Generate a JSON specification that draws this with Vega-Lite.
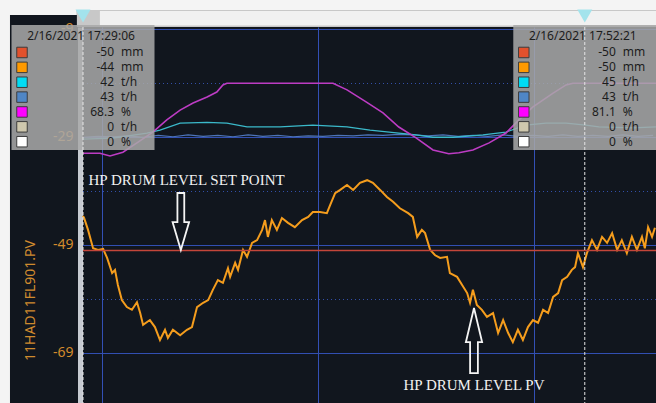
{
  "$schema": "https://vega.github.io/schema/vega-lite/v6.json",
  "width": 573,
  "height": 376,
  "autosize": {"type": "none"},
  "padding": {"left": 83, "top": 27, "right": 0, "bottom": 0},
  "background": "#11161e",
  "config": {"view": {"stroke": null}, "font": "Noto Sans", "scale": {"continuousPadding": 0}},
  "datasets": {
    "level": [
      {"time": "2021-02-16T17:29:06", "level": -43.6},
      {"time": "2021-02-16T17:29:09", "level": -44.0},
      {"time": "2021-02-16T17:29:20", "level": -46.2},
      {"time": "2021-02-16T17:29:34", "level": -49.6},
      {"time": "2021-02-16T17:29:48", "level": -49.9},
      {"time": "2021-02-16T17:30:02", "level": -49.7},
      {"time": "2021-02-16T17:30:13", "level": -51.4},
      {"time": "2021-02-16T17:30:27", "level": -54.2},
      {"time": "2021-02-16T17:30:35", "level": -53.6},
      {"time": "2021-02-16T17:30:43", "level": -56.4},
      {"time": "2021-02-16T17:30:54", "level": -59.2},
      {"time": "2021-02-16T17:31:08", "level": -60.5},
      {"time": "2021-02-16T17:31:22", "level": -61.0},
      {"time": "2021-02-16T17:31:36", "level": -59.6},
      {"time": "2021-02-16T17:31:45", "level": -61.6},
      {"time": "2021-02-16T17:31:53", "level": -63.8},
      {"time": "2021-02-16T17:32:12", "level": -62.9},
      {"time": "2021-02-16T17:32:26", "level": -64.2},
      {"time": "2021-02-16T17:32:40", "level": -66.6},
      {"time": "2021-02-16T17:32:54", "level": -64.7},
      {"time": "2021-02-16T17:33:02", "level": -66.2},
      {"time": "2021-02-16T17:33:16", "level": -64.7},
      {"time": "2021-02-16T17:33:36", "level": -65.7},
      {"time": "2021-02-16T17:33:55", "level": -64.7},
      {"time": "2021-02-16T17:34:09", "level": -64.2},
      {"time": "2021-02-16T17:34:23", "level": -60.5},
      {"time": "2021-02-16T17:34:40", "level": -59.7},
      {"time": "2021-02-16T17:34:54", "level": -59.2},
      {"time": "2021-02-16T17:35:07", "level": -57.3},
      {"time": "2021-02-16T17:35:21", "level": -55.5},
      {"time": "2021-02-16T17:35:35", "level": -56.0},
      {"time": "2021-02-16T17:35:49", "level": -53.3},
      {"time": "2021-02-16T17:35:55", "level": -54.9},
      {"time": "2021-02-16T17:36:09", "level": -52.3},
      {"time": "2021-02-16T17:36:17", "level": -53.6},
      {"time": "2021-02-16T17:36:31", "level": -49.9},
      {"time": "2021-02-16T17:36:42", "level": -51.2},
      {"time": "2021-02-16T17:36:56", "level": -48.6},
      {"time": "2021-02-16T17:37:10", "level": -48.1},
      {"time": "2021-02-16T17:37:24", "level": -46.2},
      {"time": "2021-02-16T17:37:32", "level": -44.4},
      {"time": "2021-02-16T17:37:40", "level": -47.5},
      {"time": "2021-02-16T17:37:51", "level": -44.4},
      {"time": "2021-02-16T17:38:05", "level": -46.2},
      {"time": "2021-02-16T17:38:19", "level": -44.0},
      {"time": "2021-02-16T17:38:36", "level": -44.9},
      {"time": "2021-02-16T17:38:55", "level": -45.7},
      {"time": "2021-02-16T17:39:15", "level": -44.4},
      {"time": "2021-02-16T17:39:32", "level": -43.8},
      {"time": "2021-02-16T17:39:45", "level": -42.9},
      {"time": "2021-02-16T17:40:05", "level": -42.9},
      {"time": "2021-02-16T17:40:24", "level": -43.1},
      {"time": "2021-02-16T17:40:33", "level": -41.6},
      {"time": "2021-02-16T17:40:47", "level": -39.4},
      {"time": "2021-02-16T17:41:01", "level": -38.8},
      {"time": "2021-02-16T17:41:20", "level": -37.9},
      {"time": "2021-02-16T17:41:37", "level": -38.8},
      {"time": "2021-02-16T17:41:56", "level": -37.5},
      {"time": "2021-02-16T17:42:16", "level": -37.0},
      {"time": "2021-02-16T17:42:32", "level": -37.5},
      {"time": "2021-02-16T17:42:52", "level": -38.8},
      {"time": "2021-02-16T17:43:11", "level": -40.1},
      {"time": "2021-02-16T17:43:28", "level": -41.0},
      {"time": "2021-02-16T17:43:47", "level": -42.2},
      {"time": "2021-02-16T17:44:10", "level": -43.1},
      {"time": "2021-02-16T17:44:23", "level": -43.8},
      {"time": "2021-02-16T17:44:35", "level": -47.5},
      {"time": "2021-02-16T17:44:48", "level": -46.2},
      {"time": "2021-02-16T17:44:57", "level": -46.8},
      {"time": "2021-02-16T17:45:11", "level": -49.9},
      {"time": "2021-02-16T17:45:25", "level": -50.9},
      {"time": "2021-02-16T17:45:39", "level": -51.4},
      {"time": "2021-02-16T17:45:58", "level": -51.2},
      {"time": "2021-02-16T17:46:06", "level": -54.2},
      {"time": "2021-02-16T17:46:26", "level": -54.9},
      {"time": "2021-02-16T17:46:40", "level": -56.4},
      {"time": "2021-02-16T17:46:54", "level": -57.9},
      {"time": "2021-02-16T17:47:02", "level": -59.7},
      {"time": "2021-02-16T17:47:10", "level": -57.3},
      {"time": "2021-02-16T17:47:21", "level": -60.1},
      {"time": "2021-02-16T17:47:35", "level": -61.0},
      {"time": "2021-02-16T17:47:49", "level": -62.3},
      {"time": "2021-02-16T17:48:06", "level": -61.6},
      {"time": "2021-02-16T17:48:20", "level": -65.3},
      {"time": "2021-02-16T17:48:34", "level": -62.9},
      {"time": "2021-02-16T17:48:48", "level": -65.3},
      {"time": "2021-02-16T17:49:01", "level": -67.0},
      {"time": "2021-02-16T17:49:15", "level": -64.7},
      {"time": "2021-02-16T17:49:29", "level": -66.6},
      {"time": "2021-02-16T17:49:43", "level": -64.2},
      {"time": "2021-02-16T17:49:57", "level": -62.9},
      {"time": "2021-02-16T17:50:11", "level": -63.4},
      {"time": "2021-02-16T17:50:25", "level": -61.0},
      {"time": "2021-02-16T17:50:39", "level": -61.6},
      {"time": "2021-02-16T17:50:53", "level": -58.6},
      {"time": "2021-02-16T17:51:07", "level": -57.9},
      {"time": "2021-02-16T17:51:18", "level": -55.5},
      {"time": "2021-02-16T17:51:32", "level": -54.9},
      {"time": "2021-02-16T17:51:45", "level": -53.6},
      {"time": "2021-02-16T17:51:54", "level": -53.1},
      {"time": "2021-02-16T17:52:02", "level": -50.5},
      {"time": "2021-02-16T17:52:16", "level": -53.1},
      {"time": "2021-02-16T17:52:27", "level": -50.5},
      {"time": "2021-02-16T17:52:41", "level": -48.1},
      {"time": "2021-02-16T17:52:55", "level": -49.9},
      {"time": "2021-02-16T17:53:09", "level": -47.5},
      {"time": "2021-02-16T17:53:23", "level": -48.6},
      {"time": "2021-02-16T17:53:37", "level": -46.8},
      {"time": "2021-02-16T17:53:51", "level": -49.9},
      {"time": "2021-02-16T17:54:04", "level": -48.1},
      {"time": "2021-02-16T17:54:18", "level": -50.5},
      {"time": "2021-02-16T17:54:32", "level": -47.5},
      {"time": "2021-02-16T17:54:46", "level": -49.9},
      {"time": "2021-02-16T17:55:00", "level": -47.5},
      {"time": "2021-02-16T17:55:08", "level": -49.6},
      {"time": "2021-02-16T17:55:17", "level": -45.7},
      {"time": "2021-02-16T17:55:28", "level": -47.5},
      {"time": "2021-02-16T17:55:36", "level": -45.8}
    ],
    "flowA": [
      {"time": "2021-02-16T17:29:06", "flow": 42.0},
      {"time": "2021-02-16T17:30:29", "flow": 42.2},
      {"time": "2021-02-16T17:32:04", "flow": 43.3},
      {"time": "2021-02-16T17:32:40", "flow": 43.9},
      {"time": "2021-02-16T17:33:36", "flow": 45.4},
      {"time": "2021-02-16T17:34:51", "flow": 45.6},
      {"time": "2021-02-16T17:35:46", "flow": 45.4},
      {"time": "2021-02-16T17:36:42", "flow": 44.6},
      {"time": "2021-02-16T17:38:14", "flow": 44.6},
      {"time": "2021-02-16T17:39:45", "flow": 45.0},
      {"time": "2021-02-16T17:41:20", "flow": 44.6},
      {"time": "2021-02-16T17:42:24", "flow": 43.9},
      {"time": "2021-02-16T17:43:44", "flow": 43.3},
      {"time": "2021-02-16T17:44:32", "flow": 42.9},
      {"time": "2021-02-16T17:45:19", "flow": 42.4},
      {"time": "2021-02-16T17:46:15", "flow": 42.4},
      {"time": "2021-02-16T17:47:38", "flow": 42.9},
      {"time": "2021-02-16T17:48:42", "flow": 43.5},
      {"time": "2021-02-16T17:49:37", "flow": 45.0},
      {"time": "2021-02-16T17:50:33", "flow": 45.4},
      {"time": "2021-02-16T17:51:29", "flow": 45.4},
      {"time": "2021-02-16T17:52:24", "flow": 45.0},
      {"time": "2021-02-16T17:53:00", "flow": 44.6},
      {"time": "2021-02-16T17:54:35", "flow": 44.4},
      {"time": "2021-02-16T17:55:39", "flow": 44.6}
    ],
    "flowB": [
      {"time": "2021-02-16T17:29:06", "flow": 42.4},
      {"time": "2021-02-16T17:29:48", "flow": 42.6},
      {"time": "2021-02-16T17:30:29", "flow": 42.5},
      {"time": "2021-02-16T17:31:11", "flow": 42.7},
      {"time": "2021-02-16T17:31:53", "flow": 42.4},
      {"time": "2021-02-16T17:32:35", "flow": 42.8},
      {"time": "2021-02-16T17:33:16", "flow": 42.5},
      {"time": "2021-02-16T17:33:58", "flow": 42.9},
      {"time": "2021-02-16T17:34:40", "flow": 42.6},
      {"time": "2021-02-16T17:35:21", "flow": 42.8},
      {"time": "2021-02-16T17:36:03", "flow": 42.5},
      {"time": "2021-02-16T17:36:45", "flow": 42.9},
      {"time": "2021-02-16T17:37:26", "flow": 42.6},
      {"time": "2021-02-16T17:38:08", "flow": 42.8},
      {"time": "2021-02-16T17:38:50", "flow": 42.5},
      {"time": "2021-02-16T17:39:32", "flow": 42.7},
      {"time": "2021-02-16T17:40:13", "flow": 42.6},
      {"time": "2021-02-16T17:40:55", "flow": 42.8},
      {"time": "2021-02-16T17:41:37", "flow": 42.7},
      {"time": "2021-02-16T17:42:18", "flow": 42.9},
      {"time": "2021-02-16T17:43:00", "flow": 42.8},
      {"time": "2021-02-16T17:43:42", "flow": 43.0},
      {"time": "2021-02-16T17:44:23", "flow": 42.9},
      {"time": "2021-02-16T17:45:05", "flow": 42.7},
      {"time": "2021-02-16T17:45:47", "flow": 42.9},
      {"time": "2021-02-16T17:46:29", "flow": 42.6},
      {"time": "2021-02-16T17:47:10", "flow": 42.8},
      {"time": "2021-02-16T17:47:52", "flow": 42.6},
      {"time": "2021-02-16T17:48:34", "flow": 42.9},
      {"time": "2021-02-16T17:49:15", "flow": 42.6},
      {"time": "2021-02-16T17:49:57", "flow": 42.8},
      {"time": "2021-02-16T17:50:39", "flow": 42.6},
      {"time": "2021-02-16T17:51:20", "flow": 42.9},
      {"time": "2021-02-16T17:52:02", "flow": 42.6},
      {"time": "2021-02-16T17:52:44", "flow": 42.8},
      {"time": "2021-02-16T17:53:26", "flow": 42.6},
      {"time": "2021-02-16T17:54:07", "flow": 42.9},
      {"time": "2021-02-16T17:54:49", "flow": 42.6},
      {"time": "2021-02-16T17:55:31", "flow": 42.8}
    ],
    "valve": [
      {"time": "2021-02-16T17:29:06", "pct": 68.3},
      {"time": "2021-02-16T17:29:53", "pct": 68.3},
      {"time": "2021-02-16T17:30:21", "pct": 67.8},
      {"time": "2021-02-16T17:30:57", "pct": 68.5},
      {"time": "2021-02-16T17:31:36", "pct": 70.2},
      {"time": "2021-02-16T17:32:21", "pct": 72.2},
      {"time": "2021-02-16T17:32:59", "pct": 74.4},
      {"time": "2021-02-16T17:33:36", "pct": 76.2},
      {"time": "2021-02-16T17:34:12", "pct": 77.5},
      {"time": "2021-02-16T17:34:51", "pct": 78.6},
      {"time": "2021-02-16T17:35:18", "pct": 79.5},
      {"time": "2021-02-16T17:35:35", "pct": 80.8},
      {"time": "2021-02-16T17:35:46", "pct": 81.1},
      {"time": "2021-02-16T17:40:41", "pct": 81.1},
      {"time": "2021-02-16T17:41:20", "pct": 79.9},
      {"time": "2021-02-16T17:42:13", "pct": 77.7},
      {"time": "2021-02-16T17:43:00", "pct": 75.7},
      {"time": "2021-02-16T17:43:44", "pct": 73.1},
      {"time": "2021-02-16T17:44:32", "pct": 71.1},
      {"time": "2021-02-16T17:45:19", "pct": 68.9},
      {"time": "2021-02-16T17:46:03", "pct": 68.2},
      {"time": "2021-02-16T17:46:31", "pct": 68.4},
      {"time": "2021-02-16T17:47:10", "pct": 68.9},
      {"time": "2021-02-16T17:47:55", "pct": 70.2},
      {"time": "2021-02-16T17:48:42", "pct": 72.0},
      {"time": "2021-02-16T17:49:18", "pct": 74.4},
      {"time": "2021-02-16T17:49:57", "pct": 76.8},
      {"time": "2021-02-16T17:50:53", "pct": 79.3},
      {"time": "2021-02-16T17:51:29", "pct": 80.8},
      {"time": "2021-02-16T17:51:48", "pct": 81.1},
      {"time": "2021-02-16T17:55:39", "pct": 81.1}
    ],
    "cursors": [
      {"time": "2021-02-16T17:29:06"},
      {"time": "2021-02-16T17:52:21"}
    ],
    "readout": [
      {"time": "2021-02-16T17:29:06", "row": 1, "series": "HP drum level SP", "value": -50, "unit": "mm"},
      {"time": "2021-02-16T17:29:06", "row": 2, "series": "HP drum level PV", "value": -44, "unit": "mm"},
      {"time": "2021-02-16T17:29:06", "row": 3, "series": "Flow A", "value": 42, "unit": "t/h"},
      {"time": "2021-02-16T17:29:06", "row": 4, "series": "Flow B", "value": 43, "unit": "t/h"},
      {"time": "2021-02-16T17:29:06", "row": 5, "series": "Valve", "value": 68.3, "unit": "%"},
      {"time": "2021-02-16T17:29:06", "row": 6, "series": "Flow C", "value": 0, "unit": "t/h"},
      {"time": "2021-02-16T17:29:06", "row": 7, "series": "Output", "value": 0, "unit": "%"},
      {"time": "2021-02-16T17:52:21", "row": 1, "series": "HP drum level SP", "value": -50, "unit": "mm"},
      {"time": "2021-02-16T17:52:21", "row": 2, "series": "HP drum level PV", "value": -50, "unit": "mm"},
      {"time": "2021-02-16T17:52:21", "row": 3, "series": "Flow A", "value": 45, "unit": "t/h"},
      {"time": "2021-02-16T17:52:21", "row": 4, "series": "Flow B", "value": 43, "unit": "t/h"},
      {"time": "2021-02-16T17:52:21", "row": 5, "series": "Valve", "value": 81.1, "unit": "%"},
      {"time": "2021-02-16T17:52:21", "row": 6, "series": "Flow C", "value": 0, "unit": "t/h"},
      {"time": "2021-02-16T17:52:21", "row": 7, "series": "Output", "value": 0, "unit": "%"}
    ]
  },
  "layer": [
    {
      "data": {"values": [{}]},
      "mark": {"type": "rule", "color": "#3350b5", "strokeWidth": 1, "yOffset": 0.5},
      "encoding": {"y": {"datum": -9, "type": "quantitative", "scale": {"domain": [-78.26, -8.63]}, "axis": null}}
    },
    {
      "data": {"values": [{}]},
      "mark": {"type": "rule", "color": "#3350b5", "strokeWidth": 1, "yOffset": 0.5},
      "encoding": {"y": {"datum": -29, "type": "quantitative", "scale": {"domain": [-78.26, -8.63]}, "axis": null}}
    },
    {
      "data": {"values": [{}]},
      "mark": {"type": "rule", "color": "#3350b5", "strokeWidth": 1, "yOffset": 0.5},
      "encoding": {"y": {"datum": -49, "type": "quantitative", "scale": {"domain": [-78.26, -8.63]}, "axis": null}}
    },
    {
      "data": {"values": [{}]},
      "mark": {"type": "rule", "color": "#3350b5", "strokeWidth": 1, "yOffset": 0.5},
      "encoding": {"y": {"datum": -69, "type": "quantitative", "scale": {"domain": [-78.26, -8.63]}, "axis": null}}
    },
    {
      "data": {"values": [{}]},
      "mark": {"type": "rule", "color": "#3450aa", "strokeWidth": 1, "strokeDash": [1, 3], "yOffset": 0.5},
      "encoding": {"y": {"datum": -19, "type": "quantitative", "scale": {"domain": [-78.26, -8.63]}, "axis": null}}
    },
    {
      "data": {"values": [{}]},
      "mark": {"type": "rule", "color": "#3450aa", "strokeWidth": 1, "strokeDash": [1, 3], "yOffset": 0.5},
      "encoding": {"y": {"datum": -39, "type": "quantitative", "scale": {"domain": [-78.26, -8.63]}, "axis": null}}
    },
    {
      "data": {"values": [{}]},
      "mark": {"type": "rule", "color": "#3450aa", "strokeWidth": 1, "strokeDash": [1, 3], "yOffset": 0.5},
      "encoding": {"y": {"datum": -59, "type": "quantitative", "scale": {"domain": [-78.26, -8.63]}, "axis": null}}
    },
    {
      "data": {"name": "level"},
      "mark": {"type": "line", "color": "#f59d1d", "strokeWidth": 2},
      "encoding": {
        "x": {
          "field": "time", "type": "temporal",
          "scale": {"domain": [{"year": 2021, "month": "feb", "date": 16, "hours": 17, "minutes": 29, "seconds": 6}, {"year": 2021, "month": "feb", "date": 16, "hours": 17, "minutes": 55, "seconds": 39}], "padding": 0, "nice": false},
          "axis": {
            "values": [
              {"year": 2021, "month": "feb", "date": 16, "hours": 17, "minutes": 30, "seconds": 0},
              {"year": 2021, "month": "feb", "date": 16, "hours": 17, "minutes": 40, "seconds": 0},
              {"year": 2021, "month": "feb", "date": 16, "hours": 17, "minutes": 50, "seconds": 0}
            ],
            "grid": true, "gridColor": "#3350b5", "gridWidth": 1, "gridOpacity": 1,
            "labels": false, "ticks": false, "domain": false, "title": null
          }
        },
        "y": {
          "field": "level", "type": "quantitative",
          "scale": {"domain": [-78.26, -8.63]},
          "axis": {
            "values": [-9, -29, -49, -69],
            "title": "11HAD11FL901.PV",
            "titleColor": "#cf8a2e", "titleFont": "Noto Sans", "titleFontSize": 14, "titleFontWeight": "normal",
            "titleAngle": 270, "titleX": -50, "titleY": 273, "titleAlign": "center", "titleBaseline": "middle",
            "offset": 3, "domain": true, "domainColor": "#c6cad1", "domainWidth": 5,
            "ticks": false, "labelPadding": 7,
            "labelColor": "#d38b2c", "labelFont": "Noto Sans", "labelFontSize": 14,
            "labelExpr": "toString(datum.value)",
            "grid": false
          }
        }
      }
    },
    {
      "data": {"values": [{}]},
      "mark": {"type": "rect", "color": "#f4f4f4"},
      "encoding": {
        "x": {"datum": {"year": 2021, "month": "feb", "date": 16, "hours": 17, "minutes": 25, "seconds": 10}, "type": "temporal"},
        "x2": {"datum": {"year": 2021, "month": "feb", "date": 16, "hours": 17, "minutes": 56, "seconds": 0}},
        "y": {"datum": -2, "type": "quantitative", "scale": {"domain": [-78.26, -8.63]}, "axis": null},
        "y2": {"datum": -5.48}
      }
    },
    {
      "data": {"values": [{}]},
      "mark": {"type": "rect", "color": "#f4f4f4"},
      "encoding": {
        "x": {"datum": {"year": 2021, "month": "feb", "date": 16, "hours": 17, "minutes": 25, "seconds": 10}, "type": "temporal"},
        "x2": {"datum": {"year": 2021, "month": "feb", "date": 16, "hours": 17, "minutes": 28, "seconds": 49}},
        "y": {"datum": -5.4, "type": "quantitative", "scale": {"domain": [-78.26, -8.63]}, "axis": null},
        "y2": {"datum": -6.41}
      }
    },
    {
      "data": {"values": [{}]},
      "mark": {"type": "rect", "color": "#f4f4f4"},
      "encoding": {
        "x": {"datum": {"year": 2021, "month": "feb", "date": 16, "hours": 17, "minutes": 25, "seconds": 10}, "type": "temporal"},
        "x2": {"datum": {"year": 2021, "month": "feb", "date": 16, "hours": 17, "minutes": 25, "seconds": 43}},
        "y": {"datum": -2, "type": "quantitative", "scale": {"domain": [-78.26, -8.63]}, "axis": null},
        "y2": {"datum": -80}
      }
    },
    {
      "data": {"values": [{}]},
      "mark": {"type": "rect", "color": "#c8c8c8"},
      "encoding": {
        "x": {"datum": {"year": 2021, "month": "feb", "date": 16, "hours": 17, "minutes": 28, "seconds": 49}, "type": "temporal"},
        "x2": {"datum": {"year": 2021, "month": "feb", "date": 16, "hours": 17, "minutes": 56, "seconds": 0}},
        "y": {"datum": -5.48, "type": "quantitative", "scale": {"domain": [-78.26, -8.63]}, "axis": null},
        "y2": {"datum": -8.63}
      }
    },
    {
      "data": {"values": [{}]},
      "mark": {"type": "rect", "color": "#f1f1f1"},
      "encoding": {
        "x": {"datum": {"year": 2021, "month": "feb", "date": 16, "hours": 17, "minutes": 29, "seconds": 53}, "type": "temporal"},
        "x2": {"datum": {"year": 2021, "month": "feb", "date": 16, "hours": 17, "minutes": 56, "seconds": 0}},
        "y": {"datum": -5.67, "type": "quantitative", "scale": {"domain": [-78.26, -8.63]}, "axis": null},
        "y2": {"datum": -8.35}
      }
    },
    {
      "data": {"values": [{}]},
      "mark": {"type": "rule", "color": "#c4463a", "strokeWidth": 1.5},
      "encoding": {
        "y": {"datum": -50, "type": "quantitative", "scale": {"domain": [-78.26, -8.63]}, "axis": null}
      }
    },
    {
      "data": {"values": [{"time": "2021-02-16T17:33:38", "level": -44.65}]},
      "mark": {"type": "point", "shape": "M-0.12,-1L0.12,-1L0.12,0.02L0.29,0.02L0,1L-0.29,0.02L-0.12,0.02Z", "size": 3249, "filled": false, "color": "#f4f4f4", "strokeWidth": 1.8, "opacity": 1},
      "encoding": {
        "x": {"field": "time", "type": "temporal"},
        "y": {"field": "level", "type": "quantitative", "scale": {"domain": [-78.26, -8.63]}, "axis": null}
      }
    },
    {
      "data": {"values": [{"time": "2021-02-16T17:47:13", "level": -66.7}]},
      "mark": {"type": "point", "shape": "M0,-1L0.25,0.05L0.12,0.05L0.12,1L-0.12,1L-0.12,0.05L-0.25,0.05Z", "size": 4225, "filled": false, "color": "#f4f4f4", "strokeWidth": 1.8, "opacity": 1},
      "encoding": {
        "x": {"field": "time", "type": "temporal"},
        "y": {"field": "level", "type": "quantitative", "scale": {"domain": [-78.26, -8.63]}, "axis": null}
      }
    },
    {
      "data": {"values": [
        {"time": "2021-02-16T17:33:54", "level": -37.0, "note": "HP DRUM LEVEL SET POINT"},
        {"time": "2021-02-16T17:47:13", "level": -74.9, "note": "HP DRUM LEVEL PV"}
      ]},
      "mark": {"type": "text", "font": "Liberation Serif", "fontSize": 15, "color": "#f2f2f2", "align": "center", "baseline": "middle"},
      "encoding": {
        "x": {"field": "time", "type": "temporal"},
        "y": {"field": "level", "type": "quantitative", "scale": {"domain": [-78.26, -8.63]}, "axis": null},
        "text": {"field": "note", "type": "nominal"}
      }
    },
    {
      "data": {"name": "flowB"},
      "mark": {"type": "line", "color": "#4d74b8", "strokeWidth": 1.2},
      "encoding": {
        "x": {"field": "time", "type": "temporal"},
        "y": {"field": "flow", "type": "quantitative", "scale": {"domain": [-14.5, 66.0]}, "axis": null}
      }
    },
    {
      "data": {"name": "flowA"},
      "mark": {"type": "line", "color": "#3bb9ca", "strokeWidth": 1.3},
      "encoding": {
        "x": {"field": "time", "type": "temporal"},
        "y": {"field": "flow", "type": "quantitative", "scale": {"domain": [-14.5, 66.0]}, "axis": null}
      }
    },
    {
      "data": {"name": "valve"},
      "mark": {"type": "line", "color": "#bd3cc4", "strokeWidth": 1.6},
      "encoding": {
        "x": {"field": "time", "type": "temporal"},
        "y": {"field": "pct", "type": "quantitative", "scale": {"domain": [22.6, 91.4]}, "axis": null}
      }
    },
    {
      "data": {"name": "cursors"},
      "mark": {"type": "bar", "width": 143, "color": "#a9a9a9", "opacity": 0.86},
      "encoding": {
        "x": {"field": "time", "type": "temporal"},
        "y": {"datum": -0.85, "type": "quantitative", "scale": {"domain": [-0.713, 24.57], "reverse": true}, "axis": null},
        "y2": {"datum": 7.56}
      }
    },
    {
      "data": {"name": "cursors"},
      "mark": {"type": "rule", "color": "#e6e6e6", "strokeDash": [3, 2], "strokeWidth": 1},
      "encoding": {
        "x": {"field": "time", "type": "temporal"}
      }
    },
    {
      "data": {"name": "cursors"},
      "mark": {"type": "point", "shape": "triangle-down", "size": 225, "filled": true, "color": "#a3e3ec", "opacity": 1},
      "encoding": {
        "x": {"field": "time", "type": "temporal"},
        "y": {"datum": -1.45, "type": "quantitative", "scale": {"domain": [-0.713, 24.57], "reverse": true}, "axis": null}
      }
    },
    {
      "data": {"name": "cursors"},
      "mark": {"type": "text", "color": "#1c1c1c", "fontSize": 12, "align": "center", "baseline": "middle", "dx": -2},
      "encoding": {
        "x": {"field": "time", "type": "temporal"},
        "y": {"datum": -0.1, "type": "quantitative", "scale": {"domain": [-0.713, 24.57], "reverse": true}, "axis": null},
        "text": {"field": "time", "type": "temporal", "format": "%-m/%-d/%Y %H:%M:%S"}
      }
    },
    {
      "data": {"name": "readout"},
      "mark": {"type": "point", "shape": "square", "size": 110, "filled": true, "opacity": 1, "stroke": "#3c3c3c", "strokeWidth": 1, "xOffset": -61},
      "encoding": {
        "x": {"field": "time", "type": "temporal"},
        "y": {"field": "row", "type": "quantitative", "scale": {"domain": [-0.713, 24.57], "reverse": true}, "axis": null},
        "color": {
          "field": "series", "type": "nominal",
          "scale": {
            "domain": ["HP drum level SP", "HP drum level PV", "Flow A", "Flow B", "Valve", "Flow C", "Output"],
            "range": ["#e2512d", "#ff9a00", "#00dcf5", "#4f86c6", "#ff00ff", "#cfc8ae", "#ffffff"]
          },
          "legend": null
        }
      }
    },
    {
      "data": {"name": "readout"},
      "mark": {"type": "text", "align": "right", "baseline": "middle", "dx": 31, "fontSize": 12, "color": "#1c1c1c"},
      "encoding": {
        "x": {"field": "time", "type": "temporal"},
        "y": {"field": "row", "type": "quantitative", "scale": {"domain": [-0.713, 24.57], "reverse": true}, "axis": null},
        "text": {"field": "value", "type": "nominal"}
      }
    },
    {
      "data": {"name": "readout"},
      "mark": {"type": "text", "align": "left", "baseline": "middle", "dx": 38, "fontSize": 12, "color": "#1c1c1c"},
      "encoding": {
        "x": {"field": "time", "type": "temporal"},
        "y": {"field": "row", "type": "quantitative", "scale": {"domain": [-0.713, 24.57], "reverse": true}, "axis": null},
        "text": {"field": "unit", "type": "nominal"}
      }
    }
  ],
  "resolve": {"scale": {"y": "independent"}, "axis": {"y": "independent"}}
}
